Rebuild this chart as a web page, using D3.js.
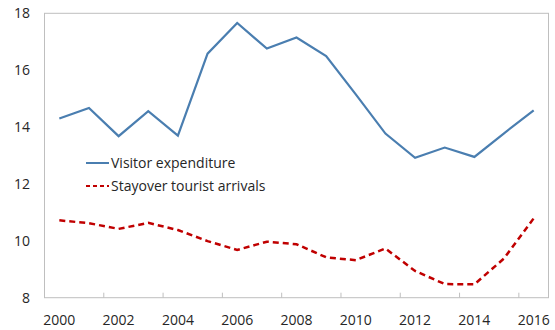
<!DOCTYPE html>
<html><head><meta charset="utf-8">
<script src="https://cdn.jsdelivr.net/npm/d3@7"></script>
<style>body{margin:0;background:#fff}svg{display:block}text{font-family:"Open Sans",sans-serif;fill:#262626}</style>
</head><body><svg id="c" width="555" height="330"></svg>
<script>
const years = [2000,2001,2002,2003,2004,2005,2006,2007,2008,2009,2010,2011,2012,2013,2014,2015,2016];
const visitorExpenditure = [14.30,14.67,13.68,14.56,13.70,16.58,17.66,16.76,17.15,16.50,15.15,13.77,12.92,13.28,12.95,13.78,14.59];
const stayoverArrivals = [10.72,10.62,10.42,10.63,10.38,9.99,9.68,9.97,9.88,9.42,9.32,9.73,8.94,8.48,8.47,9.38,10.79];
const yTicks = [8,10,12,14,16,18];
const xTickLabels = [2000,2002,2004,2006,2008,2010,2012,2014,2016];
const seriesNames = ["Visitor expenditure","Stayover tourist arrivals"];

const svg = d3.select("#c");
const L=44.5, R=548.5, T=13.3, B=297.7;
const x = d3.scaleBand().domain(years).range([L,R]);
const y = d3.scaleLinear().domain([8,18]).range([B,T]);
const cx = d => x(d)+x.bandwidth()/2;

// frame
svg.append("rect").attr("x",L).attr("y",T).attr("width",R-L).attr("height",B-T)
  .attr("fill","none").attr("stroke","#BFBFBF").attr("stroke-width",1);

// x ticks (inward, every 2 categories at boundaries)
const tickYears = years.filter((d,i)=>i%2===0 && i>0);
svg.append("g").selectAll("line").data(tickYears).join("line")
  .attr("x1",d=>x(d)).attr("x2",d=>x(d)).attr("y1",B).attr("y2",B-5)
  .attr("stroke","#BFBFBF");

// y labels
svg.append("g").selectAll("text").data(yTicks).join("text")
  .attr("x",30).attr("y",d=>y(d)).attr("dy","0.35em").attr("text-anchor","end")
  .attr("font-size",14).text(d=>d);

// x labels
svg.append("g").selectAll("text").data(xTickLabels).join("text")
  .attr("x",d=>cx(d)).attr("y",320).attr("dy","0.35em").attr("text-anchor","middle")
  .attr("font-size",14).text(d=>d);

const line = d3.line().x((d,i)=>cx(years[i])).y(d=>y(d));
svg.append("path").datum(visitorExpenditure).attr("d",line).attr("fill","none")
  .attr("stroke","#4A7EB0").attr("stroke-width",2.2).attr("stroke-linejoin","miter");
svg.append("path").datum(stayoverArrivals).attr("d",line).attr("fill","none")
  .attr("stroke","#C00000").attr("stroke-width",2.5).attr("stroke-dasharray","6,4");

// legend
const lg = svg.append("g");
const rows = [{n:seriesNames[0],c:"#4A7EB0",w:2,da:null,y:163},{n:seriesNames[1],c:"#C00000",w:2,da:"4,3",y:186}];
rows.forEach(r=>{
  lg.append("line").attr("x1",86).attr("x2",109).attr("y1",r.y).attr("y2",r.y)
    .attr("stroke",r.c).attr("stroke-width",r.w).attr("stroke-dasharray",r.da);
  lg.append("text").attr("x",111).attr("y",r.y).attr("dy","0.35em").attr("font-size",14).text(r.n);
});
</script></body></html>
